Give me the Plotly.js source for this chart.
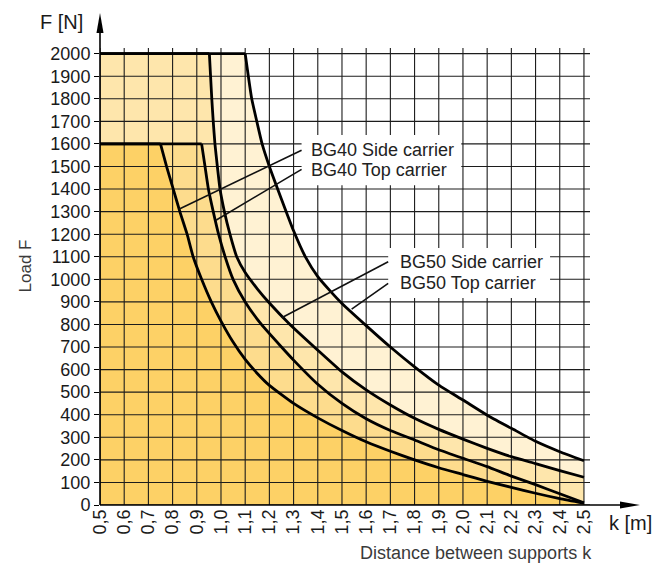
<!DOCTYPE html>
<html>
<head>
<meta charset="utf-8">
<script src="https://cdn.plot.ly/plotly-3.0.1.min.js"></script>
<style>html,body{margin:0;padding:0;background:#fff;}#chart{width:669px;height:569px;}</style>
</head>
<body>
<div id="chart"></div>
<script>
// ---- data ----
const seriesNames = ['BG40 Side carrier', 'BG40 Top carrier', 'BG50 Side carrier', 'BG50 Top carrier'];

const kBG40Side = [0.5, 0.75, 0.775, 0.8, 0.83, 0.86, 0.885, 0.92, 0.96, 1.0, 1.05, 1.1, 1.15, 1.2, 1.3, 1.4, 1.5, 1.6, 1.7, 1.8, 1.9, 2.0, 2.1, 2.2, 2.3, 2.4, 2.5];
const fBG40Side = [1600, 1600, 1500, 1410, 1300, 1200, 1100, 1000, 900, 815, 722, 645, 583, 530, 450, 386, 330, 280, 238, 200, 165, 135, 105, 78, 52, 28, 8];

const kBG40Top = [0.5, 0.92, 0.934, 0.948, 0.968, 0.99, 1.017, 1.05, 1.1, 1.167, 1.25, 1.3, 1.4, 1.5, 1.6, 1.7, 1.8, 1.9, 2.0, 2.1, 2.2, 2.3, 2.4, 2.5];
const fBG40Top = [1600, 1600, 1500, 1400, 1300, 1200, 1100, 1000, 900, 800, 700, 642, 535, 450, 382, 330, 288, 245, 207, 170, 128, 90, 50, 10];

const kBG50Side = [0.5, 0.952, 0.957, 0.962, 0.968, 0.975, 0.985, 0.996, 1.014, 1.037, 1.065, 1.1, 1.15, 1.2, 1.285, 1.4, 1.5, 1.6, 1.7, 1.8, 1.9, 2.0, 2.1, 2.2, 2.3, 2.4, 2.5];
const fBG50Side = [2000, 2000, 1900, 1800, 1700, 1600, 1500, 1400, 1300, 1200, 1100, 1030, 958, 895, 800, 686, 590, 510, 443, 384, 335, 292, 251, 214, 183, 152, 123];

const kBG50Top = [0.5, 1.1, 1.113, 1.127, 1.148, 1.17, 1.2, 1.25, 1.3, 1.35, 1.4, 1.45, 1.5, 1.6, 1.7, 1.8, 1.9, 2.0, 2.1, 2.2, 2.3, 2.4, 2.5];
const fBG50Top = [2000, 2000, 1900, 1800, 1700, 1600, 1500, 1355, 1215, 1097, 1012, 950, 893, 795, 700, 612, 531, 465, 398, 340, 282, 236, 196];

const xTickVals = [0.5, 0.6, 0.7, 0.8, 0.9, 1.0, 1.1, 1.2, 1.3, 1.4, 1.5, 1.6, 1.7, 1.8, 1.9, 2.0, 2.1, 2.2, 2.3, 2.4, 2.5];
const xTickText = ['0,5', '0,6', '0,7', '0,8', '0,9', '1,0', '1,1', '1,2', '1,3', '1,4', '1,5', '1,6', '1,7', '1,8', '1,9', '2,0', '2,1', '2,2', '2,3', '2,4', '2,5'];
const yTickVals = [0, 100, 200, 300, 400, 500, 600, 700, 800, 900, 1000, 1100, 1200, 1300, 1400, 1500, 1600, 1700, 1800, 1900, 2000];
const yTickText = ['0', '100', '200', '300', '400', '500', '600', '700', '800', '900', '1000', '1100', '1200', '1300', '1400', '1500', '1600', '1700', '1800', '1900', '2000'];

// ---- styling ----
const FONT = 'Liberation Sans, Arial, Helvetica, sans-serif';
const fillColors = ['#FDD166', '#FDDC8D', '#FEE6AC', '#FFF2D3'];
const X_RANGE = [0.5, 2.525];
const Y_RANGE = [0, 2025];

const curvesK = [kBG40Side, kBG40Top, kBG50Side, kBG50Top];
const curvesF = [fBG40Side, fBG40Top, fBG50Side, fBG50Top];

const traces = [];
// fills: outermost first
for (let i = 3; i >= 0; i--) {
  traces.push({
    x: curvesK[i], y: curvesF[i], type: 'scatter', mode: 'lines',
    fill: 'tozeroy', fillcolor: fillColors[i],
    line: {width: 0, color: fillColors[i], shape: 'linear'}, hoverinfo: 'skip', name: seriesNames[i]
  });
}
// grid drawn above the fills
const gx = [], gy = [];
xTickVals.forEach(v => { gx.push(v, v, null); gy.push(Y_RANGE[0], Y_RANGE[1], null); });
yTickVals.forEach(v => { gx.push(X_RANGE[0], X_RANGE[1], null); gy.push(v, v, null); });
traces.push({x: gx, y: gy, type: 'scatter', mode: 'lines', line: {color: '#1c1c1c', width: 1.1}, hoverinfo: 'skip', connectgaps: false});
// curve outlines: flat top part (straight) + descending part (smoothed)
for (let i = 0; i < 4; i++) {
  traces.push({
    x: curvesK[i].slice(0, 2), y: curvesF[i].slice(0, 2), type: 'scatter', mode: 'lines',
    line: {color: '#000', width: 2.8}, hoverinfo: 'skip', name: seriesNames[i]
  });
  traces.push({
    x: curvesK[i].slice(1), y: curvesF[i].slice(1), type: 'scatter', mode: 'lines',
    line: {color: '#000', width: 2.8, shape: 'spline', smoothing: 0.5}, hoverinfo: 'skip', name: seriesNames[i]
  });
}

const labelFont = {family: FONT, size: 18, color: '#222'};
const annotations = [
  {text: seriesNames[0], x: 1.365, y: 1574, xref: 'x', yref: 'y', xanchor: 'left', yanchor: 'middle', showarrow: false, font: labelFont},
  {text: seriesNames[1], x: 1.365, y: 1484, xref: 'x', yref: 'y', xanchor: 'left', yanchor: 'middle', showarrow: false, font: labelFont},
  {text: seriesNames[2], x: 1.730, y: 1078, xref: 'x', yref: 'y', xanchor: 'left', yanchor: 'middle', showarrow: false, font: labelFont},
  {text: seriesNames[3], x: 1.730, y: 982, xref: 'x', yref: 'y', xanchor: 'left', yanchor: 'middle', showarrow: false, font: labelFont},
  {text: 'F [N]', x: -0.031, y: 1.056, xref: 'paper', yref: 'paper', xanchor: 'right', yanchor: 'middle', showarrow: false, font: {family: FONT, size: 20, color: '#1a1a1a'}},
  {text: 'k [m]', x: 1.035, y: -0.039, xref: 'paper', yref: 'paper', xanchor: 'left', yanchor: 'middle', showarrow: false, font: {family: FONT, size: 20, color: '#1a1a1a'}},
  {text: 'Load F', x: -0.153, y: 0.522, xref: 'paper', yref: 'paper', xanchor: 'center', yanchor: 'middle', textangle: -90, showarrow: false, font: {family: FONT, size: 17, color: '#3a3a3a'}},
  {text: 'Distance between supports k', x: 1.008, y: -0.105, xref: 'paper', yref: 'paper', xanchor: 'right', yanchor: 'middle', showarrow: false, font: {family: FONT, size: 18, color: '#3a3a3a'}}
];

const shapes = [
  // white label boxes
  {type: 'rect', xref: 'x', yref: 'y', x0: 1.333, x1: 1.993, y0: 1417, y1: 1639, fillcolor: '#fff', line: {width: 0}, layer: 'above'},
  {type: 'rect', xref: 'x', yref: 'y', x0: 1.691, x1: 2.36, y0: 917, y1: 1139, fillcolor: '#fff', line: {width: 0}, layer: 'above'},
  // pointer lines
  {type: 'line', xref: 'x', yref: 'y', x0: 1.333, y0: 1572, x1: 0.828, y1: 1312, line: {color: '#111', width: 1.6}, layer: 'above'},
  {type: 'line', xref: 'x', yref: 'y', x0: 1.333, y0: 1487, x1: 0.979, y1: 1262, line: {color: '#111', width: 1.6}, layer: 'above'},
  {type: 'line', xref: 'x', yref: 'y', x0: 1.691, y0: 1078, x1: 1.251, y1: 830, line: {color: '#111', width: 1.6}, layer: 'above'},
  {type: 'line', xref: 'x', yref: 'y', x0: 1.691, y0: 982, x1: 1.540, y1: 868, line: {color: '#111', width: 1.6}, layer: 'above'},
  // axes with arrows
  {type: 'line', xref: 'paper', yref: 'paper', x0: 0, y0: 0, x1: 0, y1: 1.04, line: {color: '#000', width: 1.6}, layer: 'above'},
  {type: 'path', xref: 'paper', yref: 'paper', path: 'M 0 1.0766 L 0.0072 1.0328 L -0.0072 1.0328 Z', fillcolor: '#000', line: {width: 0}, layer: 'above'},
  {type: 'line', xref: 'paper', yref: 'paper', x0: 0, y0: 0, x1: 1.07, y1: 0, line: {color: '#000', width: 1.6}, layer: 'above'},
  {type: 'path', xref: 'paper', yref: 'paper', path: 'M 1.102 0 L 1.0612 0.0075 L 1.0612 -0.0075 Z', fillcolor: '#000', line: {width: 0}, layer: 'above'}
];

const layout = {
  width: 669, height: 569,
  margin: {l: 100, r: 79, t: 48, b: 64, pad: 0},
  paper_bgcolor: '#fff', plot_bgcolor: '#fff',
  showlegend: false,
  font: {family: FONT, size: 18, color: '#1a1a1a'},
  xaxis: {
    range: X_RANGE, tickvals: xTickVals, ticktext: xTickText, tickangle: -90,
    showgrid: false, zeroline: false, showline: false, ticks: '',
    tickfont: {family: FONT, size: 18, color: '#1a1a1a'}, fixedrange: true
  },
  yaxis: {
    range: Y_RANGE, tickvals: yTickVals, ticktext: yTickText,
    showgrid: false, zeroline: false, showline: false, ticks: 'outside', ticklen: 5, tickwidth: 1, tickcolor: '#000',
    tickfont: {family: FONT, size: 18, color: '#1a1a1a'}, fixedrange: true
  },
  annotations: annotations,
  shapes: shapes
};

Plotly.newPlot('chart', traces, layout, {staticPlot: true, displayModeBar: false});
</script>
</body>
</html>
